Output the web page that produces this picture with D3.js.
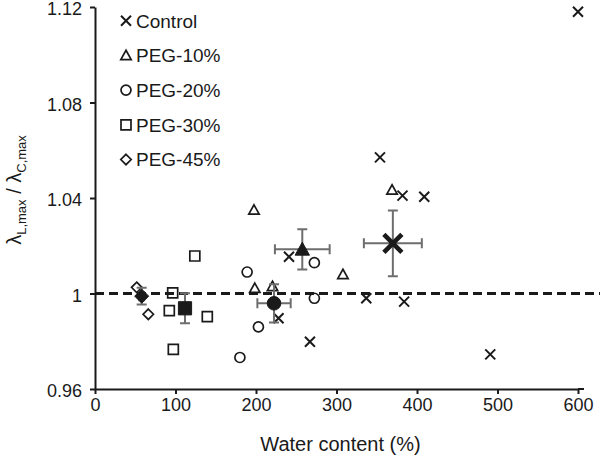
<!DOCTYPE html>
<html><head><meta charset="utf-8">
<script src="https://cdn.jsdelivr.net/npm/d3@7"></script>
<style>body{margin:0;background:#fff}svg{display:block}text{font-family:"Liberation Sans",Arial,sans-serif;fill:#1a1a1a}</style>
</head><body><svg id="c" width="600" height="461"></svg>
<script>
const seriesNames = ["Control","PEG-10%","PEG-20%","PEG-30%","PEG-45%"];
const seriesShapes = ["x","triangle","circle","square","diamond"];
const controlPts = [[600,1.118],[354,1.057],[382,1.041],[409,1.0405],[241,1.0154],[337,0.998],[384,0.9966],[228,0.9896],[267,0.9798],[491,0.9745]];
const peg10Pts = [[197.5,1.035],[369,1.0434],[308,1.008],[198.5,1.0022],[220.5,1.003]];
const peg20Pts = [[189,1.009],[272.5,1.0129],[272.5,0.998],[203,0.986],[180,0.9732]];
const peg30Pts = [[124,1.0157],[96.5,1.0003],[92.3,0.9928],[139.5,0.9903],[97.3,0.9766]];
const peg45Pts = [[51.8,1.0026],[66.2,0.9913]];
// means: [x, y, xErr, yErr]
const meanVals = [[370,1.021,36,0.0138],[257.5,1.0185,34,0.0084],[222.4,0.9959,20.7,0.008],[111.8,0.9938,4,0.0063],[58,0.9989,3,0.0035]];
const xTicks = [0,100,200,300,400,500,600];
const yTicks = [0.96,1.00,1.04,1.08,1.12];
const yTickLabels = ["0.96","1","1.04","1.08","1.12"];
const refLine = 1.0;

const svg = d3.select("#c");
const x = d3.scaleLinear().domain([0,600]).range([95,578]);
const y = d3.scaleLinear().domain([0.96,1.12]).range([389,7]);
const ink = "#1a1a1a", errC = "#6e6e6e";

function shapePath(kind, s){
  if(kind==="x") return `M${-s},${-s}L${s},${s}M${-s},${s}L${s},${-s}`;
  if(kind==="triangle"){const h=s*1.8;return `M0,${-h*0.55}L${s},${h*0.45}L${-s},${h*0.45}Z`;}
  if(kind==="square") return `M${-s},${-s}H${s}V${s}H${-s}Z`;
  if(kind==="diamond") return `M0,${-s}L${s},0L0,${s}L${-s},0Z`;
  if(kind==="circle") return `M${s},0A${s},${s} 0 1,1 ${-s},0A${s},${s} 0 1,1 ${s},0Z`;
}
const openSize = {x:5,triangle:5.2,circle:5,square:5,diamond:5.2};
const fillSize = {x:9,triangle:7.2,circle:6.8,square:6.6,diamond:7};
function drawMark(g, kind, cx, cy, filled){
  const s = filled ? fillSize[kind] : openSize[kind];
  const p = g.append("path").attr("d", shapePath(kind,s)).attr("transform",`translate(${cx},${cy})`);
  if(kind==="x") p.attr("fill","none").attr("stroke",ink).attr("stroke-width",filled?4.6:2);
  else if(filled) p.attr("fill",ink).attr("stroke",ink).attr("stroke-width",1);
  else p.attr("fill","none").attr("stroke",ink).attr("stroke-width",1.7);
}

// axes
const xAxis = d3.axisBottom(x).tickValues(xTicks).tickSize(5).tickSizeOuter(0).tickPadding(4).tickFormat(d3.format("d"));
const gx = svg.append("g").attr("transform",`translate(0,${y(0.96)})`).call(xAxis);
const yAxis = d3.axisLeft(y).tickValues(yTicks).tickSize(5).tickSizeOuter(0).tickPadding(8).tickFormat((d,i)=>yTickLabels[i]);
const gy = svg.append("g").attr("transform",`translate(${x(0)},0)`).call(yAxis);
[gx,gy].forEach(g=>{
  g.select(".domain").attr("stroke",ink).attr("stroke-width",2);
  g.selectAll(".tick line").attr("stroke",ink).attr("stroke-width",2);
  g.selectAll(".tick text").attr("fill",ink).style("font-size","18px").style("font-family",'"Liberation Sans",Arial,sans-serif');
});
gy.selectAll(".tick text").attr("dy","0.42em");
svg.append("line").attr("x1",x(600)).attr("x2",x(600)+6).attr("y1",y(0.96)).attr("y2",y(0.96)).attr("stroke",ink).attr("stroke-width",2);

// reference line
svg.append("line").attr("x1",x(0)).attr("x2",600).attr("y1",y(refLine)).attr("y2",y(refLine))
  .attr("stroke",ink).attr("stroke-width",3).attr("stroke-dasharray","9,5");

// axis titles
svg.append("text").attr("x",(x(0)+x(600))/2+4).attr("y",451).attr("text-anchor","middle").style("font-size","20px").text("Water content (%)");
const yl = svg.append("text").attr("transform","translate(21,190) rotate(-90)").attr("text-anchor","middle").style("font-size","20px");
yl.append("tspan").text("λ");
yl.append("tspan").attr("dy",5).style("font-size","13px").text("L,max");
yl.append("tspan").attr("dy",-5).text(" / λ");
yl.append("tspan").attr("dy",5).style("font-size","13px").text("C,max");

// points
const allPts = [controlPts,peg10Pts,peg20Pts,peg30Pts,peg45Pts];
const gp = svg.append("g");
allPts.forEach((pts,i)=>pts.forEach(d=>drawMark(gp, seriesShapes[i], x(d[0]), y(d[1]), false)));

// error bars + means
const ge = svg.append("g");
meanVals.forEach((m,i)=>{
  const cx=x(m[0]), cy=y(m[1]);
  const x1=x(m[0]-m[2]), x2=x(m[0]+m[2]), y1=y(m[1]+m[3]), y2=y(m[1]-m[3]);
  const c=5;
  ge.append("path").attr("d",`M${x1},${cy}H${x2}M${x1},${cy-c}V${cy+c}M${x2},${cy-c}V${cy+c}M${cx},${y1}V${y2}M${cx-c},${y1}H${cx+c}M${cx-c},${y2}H${cx+c}`)
    .attr("stroke",errC).attr("stroke-width",2).attr("fill","none");
  drawMark(ge, seriesShapes[i], cx, cy, true);
});

// legend
const lg = svg.append("g");
seriesNames.forEach((n,i)=>{
  const cy = 20.7 + 34.7*i;
  drawMark(lg, seriesShapes[i], 126, cy, false);
  lg.append("text").attr("x",136).attr("y",cy).attr("dy","0.36em").style("font-size","19px").text(n);
});
</script></body></html>
